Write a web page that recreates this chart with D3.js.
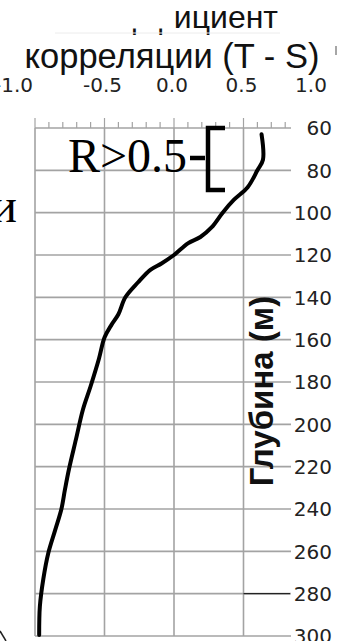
<!DOCTYPE html>
<html>
<head>
<meta charset="utf-8">
<script src="https://cdn.jsdelivr.net/npm/d3@7"></script>
<style>
  body { margin: 0; background: #fff; }
  svg { display: block; }
</style>
</head>
<body>
<svg></svg>
<script>
// data
var depth = [63, 75, 80, 88, 94, 100, 107, 111.5, 114.5, 120, 124, 127, 133, 140, 148, 153, 159, 169, 182, 193, 207, 221, 231, 240, 250, 261, 273, 286, 299.5];
var corr  = [0.63, 0.64, 0.60, 0.53, 0.43, 0.35, 0.27, 0.19, 0.10, 0.0, -0.09, -0.17, -0.26, -0.35, -0.40, -0.45, -0.50, -0.54, -0.60, -0.655, -0.705, -0.755, -0.785, -0.81, -0.855, -0.905, -0.94, -0.965, -0.97];
var corrTicks  = [-1.0, -0.5, 0.0, 0.5, 1.0];
var depthTicks = [60, 80, 100, 120, 140, 160, 180, 200, 220, 240, 260, 280, 300];

var svgWidth = 341, svgHeight = 641;
var svg = d3.select("svg").attr("width", svgWidth).attr("height", svgHeight);

// scales
var x = d3.scaleLinear().domain([-1, 1]).range([35, 313]);
var y = d3.scaleLinear().domain([60, 300]).range([128, 636]);
var plotRight = 287;
var gridColor = "#a3a3a3";

// vertical grid lines (the plot is cut on the right)
svg.append("g").selectAll("line")
   .data(corrTicks.filter(function(d){ return x(d) < plotRight; }))
   .enter().append("line")
   .attr("x1", function(d){ return x(d); }).attr("x2", function(d){ return x(d); })
   .attr("y1", y(60)).attr("y2", y(300))
   .attr("stroke", gridColor).attr("stroke-width", 1.6);

// horizontal grid lines, running out to the depth labels
svg.append("g").selectAll("line")
   .data(depthTicks)
   .enter().append("line")
   .attr("x1", x(-1)).attr("x2", 291)
   .attr("y1", function(d){ return y(d); }).attr("y2", function(d){ return y(d); })
   .attr("stroke", gridColor).attr("stroke-width", 1.6);

// minor ticks on the top edge
var minor = d3.range(-10, 9).map(function(i){ return i / 10; });
svg.append("g").selectAll("line")
   .data(minor)
   .enter().append("line")
   .attr("x1", function(d){ return x(d); }).attr("x2", function(d){ return x(d); })
   .attr("y1", y(60))
   .attr("y2", function(d){ return Math.abs(d * 2 - Math.round(d * 2)) < 1e-6 ? y(60) - 10 : y(60) - 6; })
   .attr("stroke", gridColor).attr("stroke-width", 1.2);

// dark stub on the 280 m line
svg.append("line")
   .attr("x1", x(0.5)).attr("x2", 290)
   .attr("y1", y(280)).attr("y2", y(280))
   .attr("stroke", "#222").attr("stroke-width", 1.4);

// top tick labels
svg.append("g").selectAll("text")
   .data(corrTicks)
   .enter().append("text")
   .attr("x", function(d, i){ return x(d) - 2; })
   .attr("y", 92)
   .attr("text-anchor", function(d, i){ return i === 0 ? "end" : "middle"; })
   .style("font-family", "DejaVu Sans").style("font-size", "20px").style("fill", "#222")
   .text(function(d){ return d.toFixed(1); });

// depth labels on the right
svg.append("g").selectAll("text")
   .data(depthTicks)
   .enter().append("text")
   .attr("x", 332)
   .attr("y", function(d){ return y(d); })
   .attr("dy", "0.36em")
   .attr("text-anchor", "end")
   .style("font-family", "DejaVu Sans").style("font-size", "20px").style("fill", "#222")
   .text(function(d){ return d; });

// title: first line partly hidden in the original
svg.append("text")
   .attr("x", 278).attr("y", 28)
   .attr("text-anchor", "end")
   .style("font-family", "Liberation Sans").style("font-size", "32px").style("fill", "#111")
   .text("Коэффициент");
svg.append("rect")
   .attr("x", 40).attr("y", 0).attr("width", 134).attr("height", 28.5)
   .attr("fill", "#fff");
svg.append("line")
   .attr("x1", 55).attr("x2", 280).attr("y1", 33).attr("y2", 33)
   .attr("stroke", "#ececec").attr("stroke-width", 1);
svg.append("text")
   .attr("x", 172).attr("y", 68)
   .attr("text-anchor", "middle")
   .style("font-family", "Liberation Sans").style("font-size", "34.5px").style("fill", "#111")
   .text("корреляции (T - S)");
svg.append("line")
   .attr("x1", 336).attr("x2", 336).attr("y1", 46).attr("y2", 55)
   .attr("stroke", "#888").attr("stroke-width", 1.5);

// depth axis title
svg.append("text")
   .attr("transform", "translate(273,391) rotate(-90)")
   .attr("text-anchor", "middle")
   .style("font-family", "Liberation Sans").style("font-weight", "bold")
   .style("font-size", "33px").style("fill", "#111")
   .text("Глубина (м)");

// correlation profile
var line = d3.line()
   .x(function(d){ return x(d[1]); })
   .y(function(d){ return y(d[0]); })
   .curve(d3.curveCatmullRom);

svg.append("path")
   .datum(depth.map(function(d, i){ return [d, corr[i]]; }))
   .attr("d", line)
   .attr("fill", "none")
   .attr("stroke", "#000")
   .attr("stroke-width", 4)
   .attr("stroke-linecap", "round")
   .attr("stroke-linejoin", "round");

// R>0.5 note and bracket
svg.append("text")
   .attr("x", 68).attr("y", 172)
   .style("font-family", "Liberation Serif").style("font-size", "48px").style("fill", "#000")
   .text("R>0.5");
svg.append("path")
   .attr("d", "M190,158 H205 M225,128 H208 V190 H225")
   .attr("fill", "none").attr("stroke", "#000").attr("stroke-width", 4.5);

// fragments cut at the left edge of the original
svg.append("text")
   .attr("x", 17).attr("y", 222)
   .attr("text-anchor", "end")
   .style("font-family", "Liberation Serif").style("font-size", "48px").style("fill", "#000")
   .text("и");
svg.append("line")
   .attr("x1", 0).attr("y1", 631).attr("x2", 6).attr("y2", 641)
   .attr("stroke", "#222").attr("stroke-width", 1.5);
</script>
</body>
</html>
